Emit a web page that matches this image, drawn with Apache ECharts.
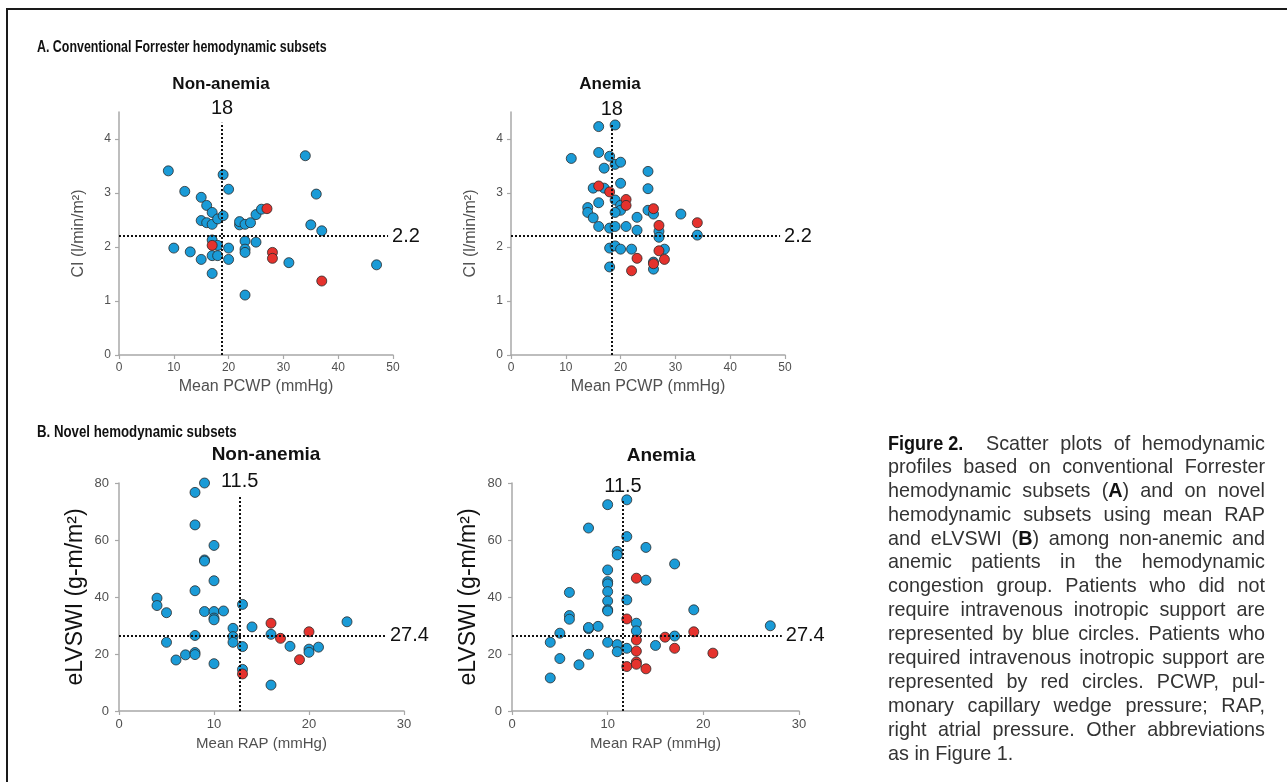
<!DOCTYPE html>
<html><head><meta charset="utf-8">
<script src="https://cdn.jsdelivr.net/npm/echarts@6/dist/echarts.min.js"></script>
<style>
html,body{margin:0;padding:0;background:#fff;}
#chart{position:absolute;left:0;top:0;width:1287px;height:782px;}
#frame{position:absolute;left:6px;top:8px;width:1300px;height:800px;border-left:2.5px solid #1a1a1a;border-top:2.5px solid #1a1a1a;pointer-events:none;}
#caption{position:absolute;left:888px;top:431px;width:377px;font-family:'Liberation Sans',Arial,sans-serif;font-size:19.8px;line-height:23.9px;color:#333;}
#caption div{text-align:justify;text-align-last:justify;height:23.9px;overflow:visible;}
#caption div.last{text-align-last:left;}
.fig{display:inline-block;width:98px;white-space:nowrap;}
.fig span{display:inline-block;font-weight:bold;font-size:21px;transform:scaleX(0.86);transform-origin:left center;color:#111;}
b{color:#111;}
</style>
</head><body>
<div id="chart"></div>
<div id="frame"></div>
<div id="caption"></div>
<script>
// ---------- data ----------
const panelTitles = ['Non-anemia', 'Anemia', 'Non-anemia', 'Anemia'];
const headers = ['A. Conventional Forrester hemodynamic subsets', 'B. Novel hemodynamic subsets'];
const aXTicks = [0, 10, 20, 30, 40, 50];
const aYTicks = [0, 1, 2, 3, 4];
const bXTicks = [0, 10, 20, 30];
const bYTicks = [0, 20, 40, 60, 80];
// cut-off lines: [x position, top of vertical line, y position, end of horizontal line]
const aNonCut = [18.8, 4.3, 2.2, 49.1];
const aAnCut = [18.4, 4.28, 2.2, 49.1];
const bNonCut = [12.7, 75.5, 26.4, 28.1];
const bAnCut = [11.6, 74, 26.4, 28.2];
const aCutLabels = ['18', '2.2'];
const bCutLabels = ['11.5', '27.4'];

const aNonBlue = [[9,3.41],[12,3.03],[15,2.92],[16,2.77],[17,2.64],[15,2.49],[16,2.45],[17,2.42],[18,2.52],[19,2.58],[19,3.34],[20,3.07],[22,2.41],[22,2.47],[23,2.42],[24,2.45],[25,2.6],[26,2.7],[34,3.69],[36,2.98],[35,2.41],[37,2.3],[10,1.98],[13,1.91],[15,1.77],[17,2.13],[18,2.03],[17,1.84],[18,1.84],[17,1.51],[20,1.98],[20,1.77],[23,2.11],[23,1.96],[23,1.9],[25,2.09],[31,1.71],[23,1.11],[47,1.67]];
const aNonRed = [[27,2.71],[17,2.03],[28,1.9],[28,1.79],[37,1.37]];

const aAnBlue = [[16,4.23],[19,4.26],[11,3.64],[16,3.75],[18,3.68],[17,3.46],[19,3.53],[20,3.57],[25,3.4],[25,3.08],[20,3.18],[15,3.09],[17,3.09],[19,2.87],[20,2.77],[20,2.68],[19,2.64],[14,2.73],[14,2.64],[15,2.54],[16,2.82],[16,2.38],[18,2.35],[19,2.38],[21,2.38],[23,2.55],[23,2.31],[25,2.68],[26,2.61],[31,2.61],[34,2.22],[27,2.29],[27,2.18],[18,1.98],[19,2.02],[20,1.96],[22,1.96],[28,1.96],[18,1.63],[26,1.72],[26,1.59]];
const aAnRed = [[16,3.13],[18,3.02],[21,2.88],[21,2.77],[26,2.71],[34,2.45],[27,2.4],[23,1.79],[27,1.93],[28,1.77],[22,1.56],[26,1.69]];

const bNonBlue = [[9,80],[8,76.7],[8,65.3],[10,58.1],[9,53.0],[9,52.6],[10,45.7],[8,42.2],[4,39.6],[4,37.0],[5,34.5],[9,34.9],[10,34.9],[10,32.6],[10,32.0],[11,35.1],[13,37.4],[12,29.0],[12,26.1],[12,24.1],[14,29.5],[8,26.5],[5,24.1],[6,17.9],[7,19.7],[8,20.5],[8,19.8],[10,16.6],[13,22.6],[13,14.6],[16,26.9],[16,9.1],[18,22.7],[20,21.7],[20,20.6],[21,22.4],[24,31.3]];
const bNonRed = [[13,13.0],[16,30.8],[17,25.5],[19,18.0],[20,27.8]];

const bAnBlue = [[12,74.1],[10,72.4],[8,64.2],[12,61.2],[14,57.4],[11,56.0],[11,54.8],[17,51.6],[10,49.5],[14,45.9],[10,45.4],[10,44.6],[10,41.9],[6,41.6],[12,39.0],[10,38.6],[10,35.5],[10,35.1],[19,35.5],[6,33.5],[6,32.2],[13,30.8],[8,28.9],[8,29.3],[9,29.7],[13,28.1],[5,27.3],[27,29.9],[17,26.3],[4,24.1],[10,24.1],[11,23.3],[15,23.0],[11,20.8],[12,22.0],[8,19.9],[5,18.4],[7,16.2],[4,11.6]];
const bAnRed = [[13,46.6],[12,32.3],[19,27.8],[16,25.9],[13,24.9],[13,21.0],[17,22.0],[21,20.3],[12,15.6],[13,17.2],[13,16.4],[14,14.8]];

const captionLines = [
  '<span class="fig"><span>Figure 2.</span></span>Scatter plots of hemodynamic',
  'profiles based on conventional Forrester',
  'hemodynamic subsets (<b>A</b>) and on novel',
  'hemodynamic subsets using mean RAP',
  'and eLVSWI (<b>B</b>) among non-anemic and',
  'anemic patients in the hemodynamic',
  'congestion group. Patients who did not',
  'require intravenous inotropic support are',
  'represented by blue circles. Patients who',
  'required intravenous inotropic support are',
  'represented by red circles. PCWP, pul-',
  'monary capillary wedge pressure; RAP,',
  'right atrial pressure. Other abbreviations',
  'as in Figure 1.'
];

// ---------- caption ----------
document.getElementById('caption').innerHTML = captionLines.map((l, i) =>
  '<div' + (i === captionLines.length - 1 ? ' class="last"' : '') + '>' + l + '</div>').join('');

// ---------- chart ----------
const FONT = "'Liberation Sans', Arial, sans-serif";
const BLUE = '#1a9bd7', RED = '#e5322d';
const chart = echarts.init(document.getElementById('chart'), null, {renderer: 'canvas'});

const grids = [
  {left: 119, top: 112, width: 274, height: 243},
  {left: 511, top: 112, width: 274, height: 243},
  {left: 119, top: 483, width: 285, height: 228},
  {left: 512, top: 483, width: 287, height: 228}
];

function xAxis(i, ticks, name, fs, nameFs, gap) {
  return {
    gridIndex: i, type: 'value', min: ticks[0], max: ticks[ticks.length - 1], interval: ticks[1] - ticks[0],
    name: name, nameLocation: 'middle', nameGap: gap,
    nameTextStyle: {fontFamily: FONT, fontSize: nameFs, color: '#505050'},
    axisLine: {show: true, lineStyle: {color: '#a8a8a8', width: 1.5}},
    axisTick: {show: true, length: 4, lineStyle: {color: '#a8a8a8', width: 1.2}},
    axisLabel: {fontFamily: FONT, fontSize: fs, color: '#505050', margin: 7},
    splitLine: {show: false}
  };
}
function yAxis(i, ticks, max, name, fs, nameFs, nameColor, gap, margin) {
  return {
    gridIndex: i, type: 'value', min: ticks[0], max: max, interval: ticks[1] - ticks[0],
    name: name, nameLocation: 'middle', nameGap: gap,
    nameTextStyle: {fontFamily: FONT, fontSize: nameFs, color: nameColor},
    axisLine: {show: true, lineStyle: {color: '#a8a8a8', width: 1.5}},
    axisTick: {show: true, length: 4, lineStyle: {color: '#a8a8a8', width: 1.2}, customValues: ticks},
    axisLabel: {fontFamily: FONT, fontSize: fs, color: '#505050', margin: margin, customValues: ticks},
    splitLine: {show: false}
  };
}

function cutLines(cut, labels) {
  return {
    silent: true, symbol: 'none', animation: false,
    lineStyle: {type: [2, 2], color: '#111', width: 2},
    label: {show: true, position: 'end', formatter: '{b}', fontFamily: FONT, fontSize: 20, color: '#111', distance: 4},
    emphasis: {disabled: true},
    data: [
      [{name: labels[0], coord: [cut[0], 0]}, {coord: [cut[0], cut[1]]}],
      [{name: labels[1], coord: [0, cut[2]]}, {coord: [cut[3], cut[2]]}]
    ]
  };
}

function scatter(i, data, color, ml) {
  const s = {
    type: 'scatter', xAxisIndex: i, yAxisIndex: i, data: data, symbolSize: 10,
    itemStyle: {color: color, borderColor: '#2a2a2a', borderWidth: 0.8, opacity: 1},
    emphasis: {disabled: true}, animation: false, z: 3
  };
  if (ml) s.markLine = ml;
  return s;
}

const option = {
  backgroundColor: '#fff',
  animation: false,
  grid: grids,
  xAxis: [
    xAxis(0, aXTicks, 'Mean PCWP (mmHg)', 12, 16, 24),
    xAxis(1, aXTicks, 'Mean PCWP (mmHg)', 12, 16, 24),
    xAxis(2, bXTicks, 'Mean RAP (mmHg)', 13, 15, 25),
    xAxis(3, bXTicks, 'Mean RAP (mmHg)', 13, 15, 25)
  ],
  yAxis: [
    yAxis(0, aYTicks, 4.5, 'CI (l/min/m²)', 12, 16, '#505050', 32, 8),
    yAxis(1, aYTicks, 4.5, 'CI (l/min/m²)', 12, 16, '#505050', 32, 8),
    yAxis(2, bYTicks, 80, 'eLVSWI (g-m/m²)', 13, 23, '#111', 32, 10),
    yAxis(3, bYTicks, 80, 'eLVSWI (g-m/m²)', 13, 23, '#111', 32, 10)
  ],
  series: [
    scatter(0, aNonBlue, BLUE, cutLines(aNonCut, aCutLabels)), scatter(0, aNonRed, RED),
    scatter(1, aAnBlue, BLUE, cutLines(aAnCut, aCutLabels)), scatter(1, aAnRed, RED),
    scatter(2, bNonBlue, BLUE, cutLines(bNonCut, bCutLabels)), scatter(2, bNonRed, RED),
    scatter(3, bAnBlue, BLUE, cutLines(bAnCut, bCutLabels)), scatter(3, bAnRed, RED)
  ],
  graphic: [
    {type: 'text', x: 37, y: 47, scaleX: 0.73, style: {text: headers[0], fontFamily: FONT, fontWeight: 'bold', fontSize: 17, fill: '#111', align: 'left', verticalAlign: 'middle'}},
    {type: 'text', x: 37, y: 432, scaleX: 0.78, style: {text: headers[1], fontFamily: FONT, fontWeight: 'bold', fontSize: 17, fill: '#111', align: 'left', verticalAlign: 'middle'}},
    {type: 'text', x: 221, y: 84, style: {text: panelTitles[0], fontFamily: FONT, fontWeight: 'bold', fontSize: 17, fill: '#111', align: 'center', verticalAlign: 'middle'}},
    {type: 'text', x: 610, y: 84, style: {text: panelTitles[1], fontFamily: FONT, fontWeight: 'bold', fontSize: 17, fill: '#111', align: 'center', verticalAlign: 'middle'}},
    {type: 'text', x: 266, y: 455, style: {text: panelTitles[2], fontFamily: FONT, fontWeight: 'bold', fontSize: 19, fill: '#111', align: 'center', verticalAlign: 'middle'}},
    {type: 'text', x: 661, y: 456, style: {text: panelTitles[3], fontFamily: FONT, fontWeight: 'bold', fontSize: 19, fill: '#111', align: 'center', verticalAlign: 'middle'}}
  ]
};
chart.setOption(option);
</script>
</body></html>
